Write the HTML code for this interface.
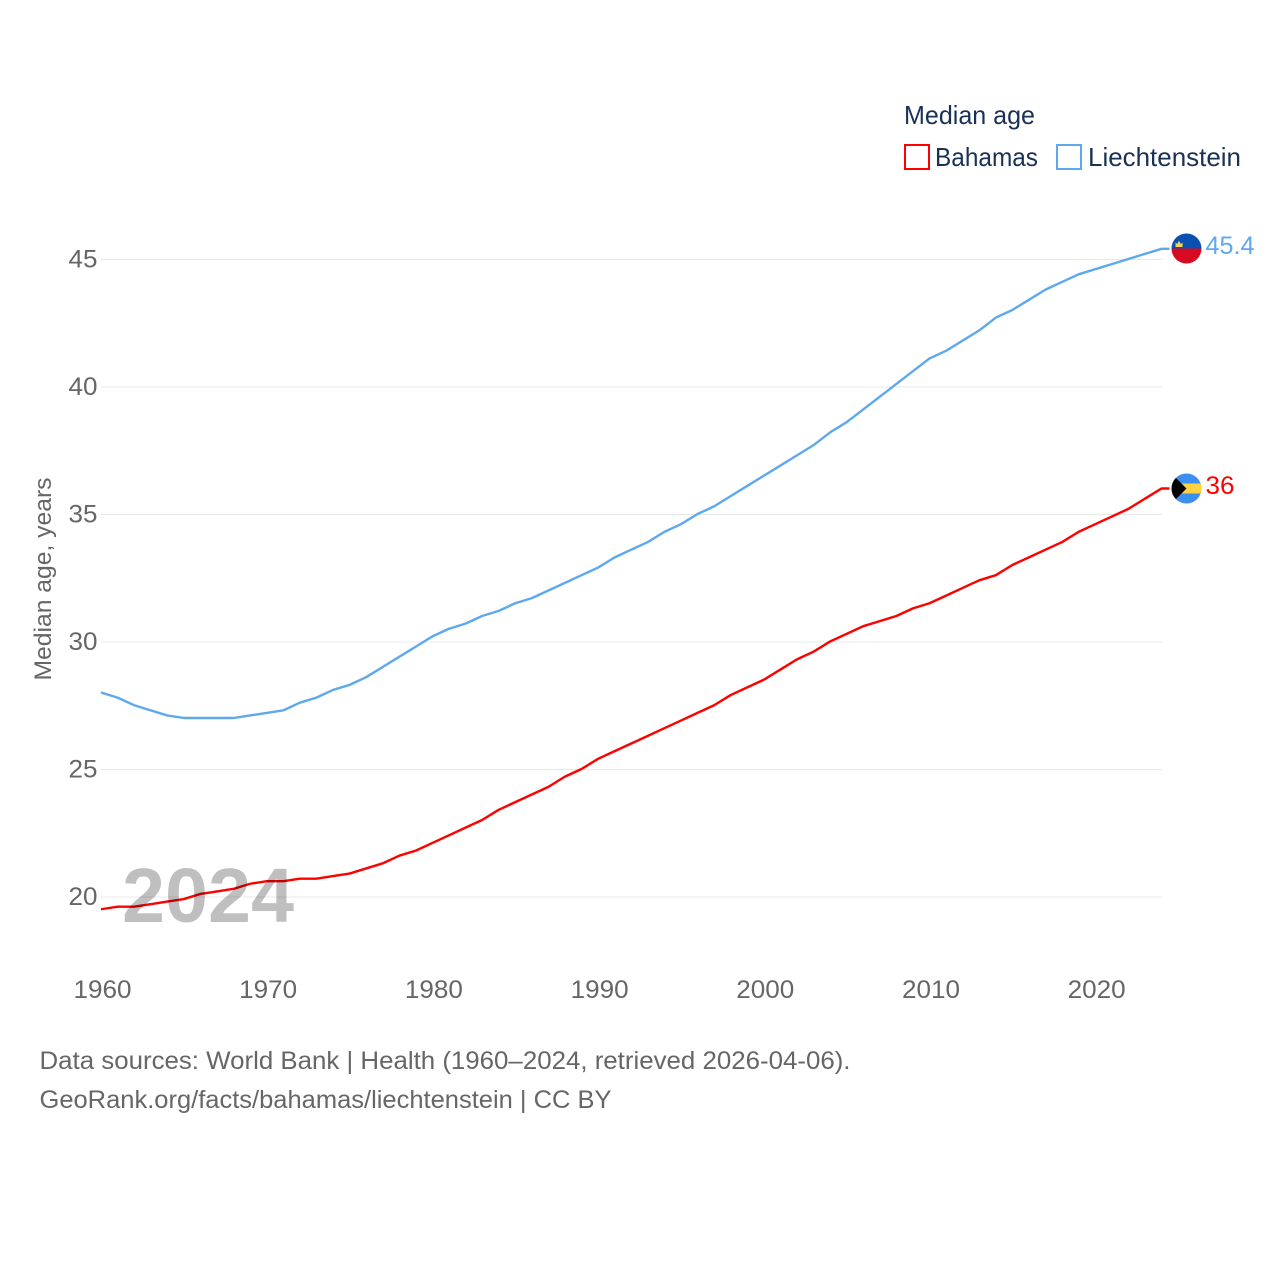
<!DOCTYPE html>
<html lang="en">
<head>
<meta charset="utf-8">
<title>Median age: Bahamas and Liechtenstein</title>
<style>
html,body{margin:0;padding:0;background:#fff;width:1280px;height:1280px;overflow:hidden}
svg{display:block}
text{font-family:"Liberation Sans",sans-serif}
</style>
</head>
<body>
<svg id="chart" width="1280" height="1280" viewBox="0 0 1280 1280" xmlns="http://www.w3.org/2000/svg">
  <defs>
    <clipPath id="clip-li"><circle cx="1186.500" cy="248.500" r="15"/></clipPath>
    <clipPath id="clip-bs"><circle cx="1186.500" cy="488.500" r="15"/></clipPath>
  </defs>
  <g id="grid"></g>
  <g id="y-ticks"></g>
  <g id="x-ticks"></g>
  <text x="51" y="579" transform="rotate(-90 51 579)" text-anchor="middle" font-size="24" fill="#666" textLength="203" lengthAdjust="spacingAndGlyphs">Median age, years</text>
  <g id="series"></g>
  <text x="122" y="922" font-size="77" font-weight="700" fill="rgba(0,0,0,0.25)" textLength="172" lengthAdjust="spacingAndGlyphs">2024</text>

  <g>
    <text x="904" y="124" font-size="26" fill="#1a3156" textLength="131" lengthAdjust="spacingAndGlyphs">Median age</text>
    <g>
      <rect x="905" y="145" width="24" height="24" fill="#fff" stroke="#ff0000" stroke-width="2"/>
      <text x="935" y="166" font-size="26" fill="#1a3156" textLength="103" lengthAdjust="spacingAndGlyphs">Bahamas</text>
    </g>
    <g>
      <rect x="1057" y="145" width="24" height="24" fill="#fff" stroke="#5ea8ee" stroke-width="2"/>
      <text x="1088" y="166" font-size="26" fill="#1a3156" textLength="153" lengthAdjust="spacingAndGlyphs">Liechtenstein</text>
    </g>
  </g>

  <g clip-path="url(#clip-li)">
    <rect x="1171" y="233" width="31" height="15.500" fill="#0a50b0"/>
    <rect x="1171" y="248.500" width="31" height="15.500" fill="#d70a22"/>
    <path d="M1175.500 247V242.500L1177.300 244L1179 240.500L1180.700 244L1182.500 242.500V247Z" fill="#ffd24a"/>
  </g>
  <g clip-path="url(#clip-bs)">
    <rect x="1171" y="473" width="31" height="31" fill="#3a8ff0"/>
    <rect x="1171" y="483.500" width="31" height="10" fill="#ffd23f"/>
    <path d="M1171 473L1186.500 488.500L1171 504Z" fill="#000"/>
  </g>
  <text x="1205.500" y="254" font-size="25" fill="#5ea8ee" textLength="49" lengthAdjust="spacingAndGlyphs">45.4</text>
  <text x="1205.500" y="494" font-size="25" fill="#ff0000" textLength="29" lengthAdjust="spacingAndGlyphs">36</text>

  <g>
    <text x="39.500" y="1069" font-size="25" fill="#666" textLength="811" lengthAdjust="spacingAndGlyphs">Data sources: World Bank | Health (1960–2024, retrieved 2026-04-06).</text>
    <text x="39.500" y="1108" font-size="25" fill="#666" textLength="572" lengthAdjust="spacingAndGlyphs">GeoRank.org/facts/bahamas/liechtenstein | CC BY</text>
  </g>
</svg>
<script>
var years = [];
for (var yr = 1960; yr <= 2024; yr++) { years.push(yr); }
var bahamasValues = [19.5,19.6,19.6,19.7,19.8,19.9,20.1,20.2,20.3,20.5,20.6,20.6,20.7,20.7,20.8,20.9,21.1,21.3,21.6,21.8,22.1,22.4,22.7,23.0,23.4,23.7,24.0,24.3,24.7,25.0,25.4,25.7,26.0,26.3,26.6,26.9,27.2,27.5,27.9,28.2,28.5,28.9,29.3,29.6,30.0,30.3,30.6,30.8,31.0,31.3,31.5,31.8,32.1,32.4,32.6,33.0,33.3,33.6,33.9,34.3,34.6,34.9,35.2,35.6,36.0];
var liechtensteinValues = [28.0,27.8,27.5,27.3,27.1,27.0,27.0,27.0,27.0,27.1,27.2,27.3,27.6,27.8,28.1,28.3,28.6,29.0,29.4,29.8,30.2,30.5,30.7,31.0,31.2,31.5,31.7,32.0,32.3,32.6,32.9,33.3,33.6,33.9,34.3,34.6,35.0,35.3,35.7,36.1,36.5,36.9,37.3,37.7,38.2,38.6,39.1,39.6,40.1,40.6,41.1,41.4,41.8,42.2,42.7,43.0,43.4,43.8,44.1,44.4,44.6,44.8,45.0,45.2,45.4];
var yTickValues = [20,25,30,35,40,45];
var xTickValues = [1960,1970,1980,1990,2000,2010,2020];

var NS = 'http://www.w3.org/2000/svg';
function xScale(year) { return 101 + (year - 1960) * 16.57; }
function yScale(value) { return 897 - (value - 20) * 25.5; }

var gridGroup = document.getElementById('grid');
var yGroup = document.getElementById('y-ticks');
var xGroup = document.getElementById('x-ticks');
var seriesGroup = document.getElementById('series');

yTickValues.forEach(function (v) {
  var line = document.createElementNS(NS, 'line');
  
  
  line.setAttribute('x1', 101);
  line.setAttribute('x2', 1162);
  line.setAttribute('y1', yScale(v));
  line.setAttribute('y2', yScale(v));
  line.setAttribute('stroke', '#e8e8e8');
  line.setAttribute('stroke-width', '1');
  gridGroup.appendChild(line);

  var label = document.createElementNS(NS, 'text');
  
  
  label.setAttribute('x', 97.5);
  label.setAttribute('y', yScale(v) + 8);
  label.setAttribute('text-anchor', 'end');
  label.setAttribute('font-size', '25');
  label.setAttribute('fill', '#666');
  label.setAttribute('textLength', '29');
  label.setAttribute('lengthAdjust', 'spacingAndGlyphs');
  label.textContent = v;
  yGroup.appendChild(label);
});

xTickValues.forEach(function (t) {
  var label = document.createElementNS(NS, 'text');
  
  
  label.setAttribute('x', xScale(t) + 1.5);
  label.setAttribute('y', 998);
  label.setAttribute('text-anchor', 'middle');
  label.setAttribute('font-size', '25');
  label.setAttribute('fill', '#666');
  label.setAttribute('textLength', '58');
  label.setAttribute('lengthAdjust', 'spacingAndGlyphs');
  label.textContent = t;
  xGroup.appendChild(label);
});

function linePoints(values) {
  var pts = values.map(function (v, i) {
    return xScale(years[i]).toFixed(2) + ',' + (yScale(v) - 0.5).toFixed(2);
  });
  pts.push((xScale(years[values.length - 1]) + 8).toFixed(2) + ',' + (yScale(values[values.length - 1]) - 0.5).toFixed(2));
  return pts.join(' ');
}

var liLine = document.createElementNS(NS, 'polyline');


liLine.setAttribute('points', linePoints(liechtensteinValues));
liLine.setAttribute('fill', 'none');
liLine.setAttribute('stroke', '#5ea8ee');
liLine.setAttribute('stroke-width', '2.4');
liLine.setAttribute('stroke-linejoin', 'round');
seriesGroup.appendChild(liLine);

var bsLine = document.createElementNS(NS, 'polyline');


bsLine.setAttribute('points', linePoints(bahamasValues));
bsLine.setAttribute('fill', 'none');
bsLine.setAttribute('stroke', '#ff0000');
bsLine.setAttribute('stroke-width', '2.4');
bsLine.setAttribute('stroke-linejoin', 'round');
seriesGroup.appendChild(bsLine);
</script>
</body>
</html>
